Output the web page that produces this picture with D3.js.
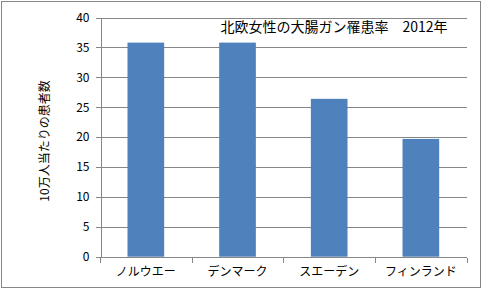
<!DOCTYPE html>
<html lang="ja">
<head>
<meta charset="utf-8">
<style>
  body { margin: 0; background: #fff; }
  svg text { font-family: "Noto Sans CJK JP", sans-serif; fill: #000; }
  .axis path, .axis line { fill: none; stroke: #868686; shape-rendering: crispEdges; }
  .grid line { stroke: #868686; shape-rendering: crispEdges; }
</style>
<script src="https://d3js.org/d3.v7.min.js"></script>
</head>
<body>
<script>
  let countries = ["ノルウエー", "デンマーク", "スエーデン", "フィンランド"];
  let rates = [35.8, 35.8, 26.4, 19.7];
  let yTicks = [0, 5, 10, 15, 20, 25, 30, 35, 40];

  let W = 483, H = 291;
  let plotLeft = 100, plotRight = 466.7, plotTop = 17.5, plotBottom = 256.7;

  let svg = d3.select("body").append("svg")
    .attr("width", W)
    .attr("height", H);

  svg.append("rect")
    .attr("x", 1.5).attr("y", 1.5)
    .attr("width", 479).attr("height", 286)
    .attr("fill", "#fff")
    .attr("stroke", "#868686");

  let x = d3.scaleBand()
    .domain(countries)
    .range([plotLeft, plotRight])
    .paddingInner(0.6)
    .paddingOuter(0.3);

  let xb = d3.scaleBand().domain(countries).range([plotLeft, plotRight]);

  let y = d3.scaleLinear()
    .domain([0, 40])
    .range([plotBottom, plotTop]);

  // gridlines
  svg.append("g").attr("class", "grid")
    .selectAll("line")
    .data(yTicks.filter(d => d > 0))
    .join("line")
    .attr("x1", plotLeft).attr("x2", plotRight)
    .attr("y1", d => Math.round(y(d)) + 0.5)
    .attr("y2", d => Math.round(y(d)) + 0.5);

  // bars
  svg.append("g")
    .selectAll("rect")
    .data(rates)
    .join("rect")
    .attr("x", (d, i) => x(countries[i]))
    .attr("width", x.bandwidth())
    .attr("y", d => y(d))
    .attr("height", d => y(0) - y(d))
    .attr("fill", "#4F81BD");

  // y axis
  let ya = svg.append("g")
    .attr("class", "axis")
    .attr("transform", "translate(" + (plotLeft + 0.5) + ",0)")
    .call(d3.axisLeft(y).tickValues(yTicks).tickSize(5).tickPadding(6).tickSizeOuter(0));
  ya.selectAll("text").style("font-size", "12px");

  // x axis
  let xa = svg.append("g")
    .attr("class", "axis")
    .attr("transform", "translate(0," + (Math.round(plotBottom) + 0.5) + ")")
    .call(d3.axisBottom(xb).tickSize(0).tickPadding(10));
  xa.select(".domain").attr("d", "M" + plotLeft + ",0H" + plotRight);
  xa.selectAll("text").style("font-size", "12px");
  // category boundary ticks
  xa.selectAll(".bt")
    .data(countries.concat(["end"]))
    .join("line")
    .attr("class", "bt")
    .attr("x1", (d, i) => Math.round(plotLeft + i * xb.bandwidth()) + 0.5)
    .attr("x2", (d, i) => Math.round(plotLeft + i * xb.bandwidth()) + 0.5)
    .attr("y1", 0).attr("y2", 5);

  // title
  svg.append("text")
    .attr("x", 334).attr("y", 32)
    .attr("text-anchor", "middle")
    .style("font-size", "14px")
    .text("北欧女性の大腸ガン罹患率　2012年");

  // y label
  svg.append("text")
    .attr("transform", "translate(49,141) rotate(-90)")
    .attr("text-anchor", "middle")
    .style("font-size", "12px")
    .text("10万人当たりの患者数");
</script>
</body>
</html>
